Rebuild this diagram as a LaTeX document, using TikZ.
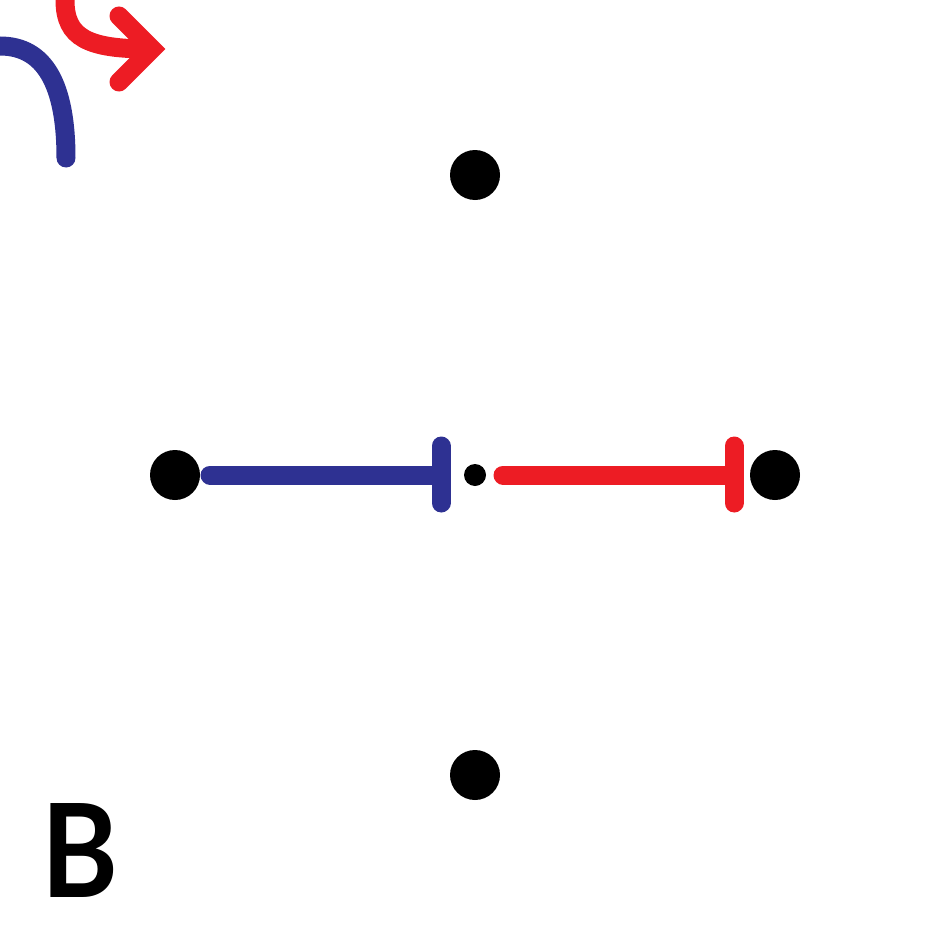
\documentclass[tikz,border=0pt]{standalone}
\usepackage{fontspec}
\setmainfont{Lato}
\definecolor{cblue}{HTML}{2E3192}
\definecolor{cred}{HTML}{ED1C24}
\begin{document}
\begin{tikzpicture}[x=1pt,y=-1pt,
  dot/.style={circle,fill=black,inner sep=0pt,minimum size=50pt},
  smalldot/.style={circle,fill=black,inner sep=0pt,minimum size=22pt},
  bluestroke/.style={draw=cblue,line width=19pt,line cap=round},
  redstroke/.style={draw=cred,line width=19pt,line cap=round}]
\useasboundingbox (0,0) rectangle (950,950);
\node[dot] (T) at (475,175) {};
\node[dot] (L) at (175,475) {};
\node[dot] (R) at (775,475) {};
\node[dot] (Bt) at (475,775) {};
\node[smalldot] (C) at (475,475) {};
% blue inhibition
\coordinate (bs) at (210,475);
\coordinate (be) at (441,475);
\coordinate (bt) at (441,446);
\coordinate (bb) at (441,503);
\draw[bluestroke] (bs) -- (be);
\draw[bluestroke] (bt) -- (bb);
% red inhibition
\coordinate (rs) at (503,475);
\coordinate (re) at (734,475);
\coordinate (rt) at (734,446);
\coordinate (rb) at (734,503);
\draw[redstroke] (rs) -- (re);
\draw[redstroke] (rt) -- (rb);
% top-left curves
\coordinate (b1) at (-20,46);
\coordinate (b2) at (66,158);
\draw[bluestroke] (b1) -- (0,46) .. controls (45,46) and (66,85) .. (b2);
\coordinate (r1) at (65,-20);
\coordinate (r2) at (150,49);
\draw[redstroke,line cap=butt] (r1) -- (65,0) .. controls (65,38) and (88,49) .. (r2);
\coordinate (a1) at (119,16);
\coordinate (a2) at (152,49);
\coordinate (a3) at (119,82);
\draw[redstroke,line join=miter] (a1) -- (a2) -- (a3);
\node[font=\fontsize{130}{130}\selectfont\bfseries,inner sep=0pt] (lab) at (80,850) {\scalebox{0.9}[1]{B}};
\end{tikzpicture}
\end{document}
